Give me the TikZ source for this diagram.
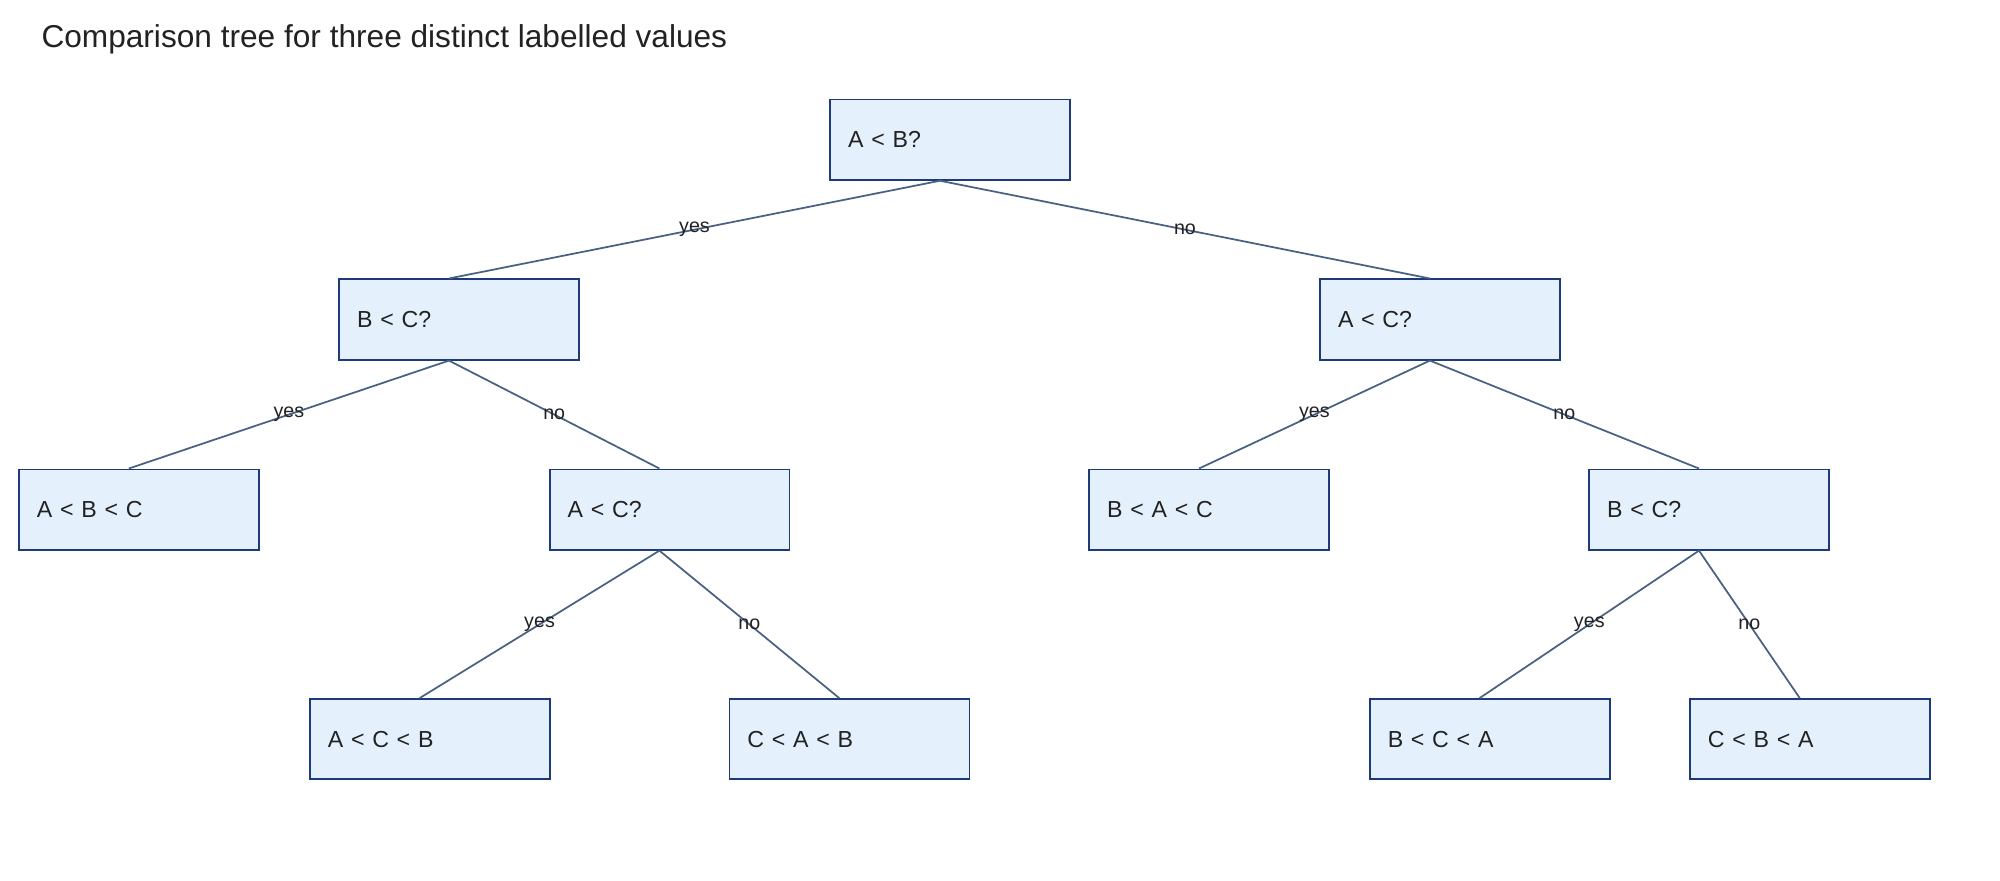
\documentclass[tikz,border=0pt]{standalone}
\usepackage{fontspec}
\setmainfont{Liberation Sans}
\usetikzlibrary{positioning}
\definecolor{boxfill}{HTML}{E4F1FC}
\definecolor{boxline}{HTML}{1F3A78}
\definecolor{edgeline}{HTML}{4A6282}
\definecolor{ink}{HTML}{222222}
\begin{document}
\begin{tikzpicture}[x=0.012755cm,y=-0.012755cm]
\tikzstyle{test}=[rectangle, draw=boxline, fill=boxfill, line width=0.5pt, minimum width=188*0.012755cm, minimum height=63*0.012755cm, text width=160*0.012755cm, align=left, inner sep=0pt, text=ink, font=\fontsize{6.6}{8}\selectfont]
\tikzstyle{ans}=[font=\fontsize{5.6}{7}\selectfont, text=ink, inner sep=1pt]
\useasboundingbox (0,0) rectangle (1568,690);
\node[anchor=west, text=ink, font=\fontsize{9}{11}\selectfont, inner sep=0pt] (title) at (32,31) {Comparison tree for three distinct labelled values};

\node[test] (AB) at (745,109.5) {A < B?};
\node[test] (BC) at (360,250.5) {B < C?};
\node[test] (AC) at (1129,250.5) {A < C?};
\node[test] (ABC) at (109,399.5) {A < B < C};
\node[test] (AC2) at (525,399.5) {A < C?};
\node[test] (BAC) at (948,399.5) {B < A < C};
\node[test] (BC2) at (1340,399.5) {B < C?};
\node[test] (ACB) at (337,579.5) {A < C < B};
\node[test] (CAB) at (666,579.5) {C < A < B};
\node[test] (BCA) at (1168,579.5) {B < C < A};
\node[test] (CBA) at (1419,579.5) {C < B < A};

\foreach \i/\j/\l in {AB/BC/yes, AB/AC/no, BC/ABC/yes, BC/AC2/no, AC/BAC/yes, AC/BC2/no, AC2/ACB/yes, AC2/CAB/no, BC2/BCA/yes, BC2/CBA/no}
{\draw[edgeline, line width=0.5pt] ([xshift=-8*0.012755cm]\i.south) -- node[ans]{\l} ([xshift=-8*0.012755cm]\j.north);}
\end{tikzpicture}
\end{document}
